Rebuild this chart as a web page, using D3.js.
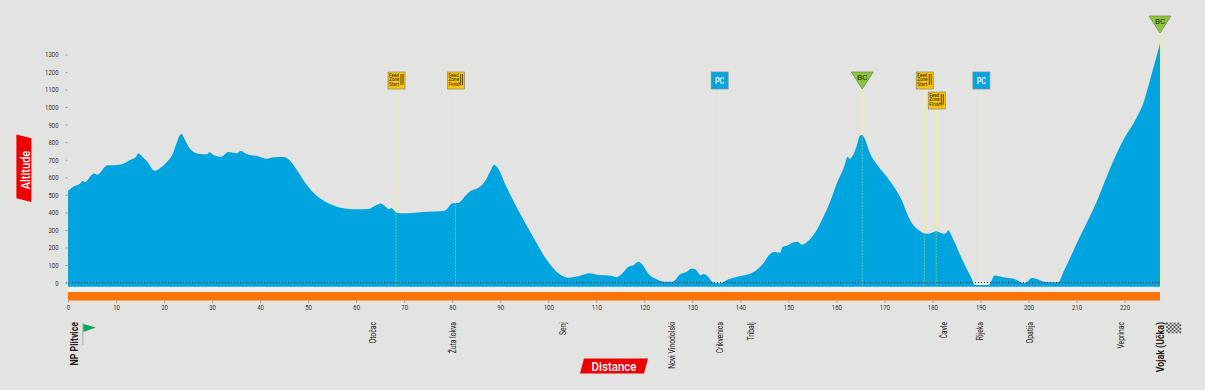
<!DOCTYPE html>
<html>
<head>
<meta charset="utf-8">
<script src="https://cdnjs.cloudflare.com/ajax/libs/d3/7.8.5/d3.min.js"></script>
<style>
html, body { margin: 0; padding: 0; background: #e3e3e1; overflow: hidden; }
svg { display: block; }
text { font-family: "Roboto", sans-serif; }
</style>
</head>
<body>
<div id="chart"></div>
<script>
let width = 1205;
let height = 390;

// profile
let distanceKm = [0,1.1,2.4,3.1,3.6,4.6,5.4,6.1,6.7,7.4,8.2,9.4,11.2,12.9,14.2,14.6,15.6,16.7,17.6,18.1,19.2,20.6,21.8,22.6,23.3,23.7,24.2,25.1,26.1,27.5,29,29.4,30.3,31.9,33.4,35.1,36,37.2,39.6,41.4,42.8,45,45.9,47.6,49.4,50.7,53.2,56,59.4,62.5,63.9,65.1,65.8,66.8,67.3,68.4,69.5,74.7,78.2,79,79.9,81.5,82.7,83.9,85.4,86.6,87.9,88.7,89.3,91.3,94.1,96.9,99.7,101.1,102.1,104.2,106.6,108.6,110.5,113.2,114.1,115.3,116.7,117.6,118.8,119.5,120.9,122.6,124.3,125.9,127.5,128.8,129.9,130.6,131.8,132.4,133.1,134.3,135.8,137.2,139.3,142,143.4,144.8,146.2,147.2,148.3,148.8,149.7,151.4,152,152.8,153.8,155.6,157.3,158.7,160.1,161.5,162.4,162.7,163.5,164.4,164.9,165.4,165.8,167,168.8,170.5,172.2,173.6,175,176,177.1,178.3,179.2,180.8,182.3,182.8,183.2,184.4,186.1,187.9,188.9,191.7,192.2,192.9,194.8,197.6,198.9,199.6,200.7,201.7,203.5,206.2,207.3,210.7,214.2,217.3,219.4,222.8,223.9,225.7,227.4];
let altitudeM = [523,546,562,579,573,603,622,615,626,651,668,668,674,698,717,737,714,683,645,637,653,687,733,794,841,847,822,774,746,733,731,742,727,717,744,737,750,733,720,706,714,716,703,645,569,523,467,432,418,419,436,450,440,418,425,398,395,404,408,421,450,457,493,523,539,569,632,672,660,546,395,258,129,81,53,28,39,53,43,39,30,49,91,97,119,106,49,19,5,5,47,62,81,76,42,49,39,2,-3,15,34,51,72,110,163,174,170,204,210,231,231,216,230,286,375,461,566,651,717,704,727,794,837,841,826,737,660,603,537,470,375,328,300,281,278,292,278,281,298,243,138,39,-14,-14,5,41,30,15,-3,2,26,20,3,2,62,261,461,670,794,955,1021,1192,1363];

let altitudeTicks = [0,100,200,300,400,500,600,700,800,900,1000,1100,1200,1300];
let distanceTicks = [0,10,20,30,40,50,60,70,80,90,100,110,120,130,140,150,160,170,180,190,200,210,220];

let placeNames = ["NP Plitvice","Otočac","Žuta lokva","Senj","Novi Vinodolski","Crikvenica","Tribalj","Čavle","Rijeka","Opatija","Veprinac","Vojak (Učka)"];
let placeLabelKm = [1.3,63.5,80.2,103.1,125.7,135.7,142.3,182.4,189.9,200.3,219.2,227.4];

let signKm = [68.3,80.7,135.7,165.4,178.3,180.8,190.2,227.4];
let signType = ["feed","feed","pc","bc","feed","feed","pc","bc"];
let signWords = ["Start","Finish","PC","BC","Start","Finish","PC","BC"];

// Roboto is too wide next to the original face, so text gets squeezed
let squeeze = 0.8;

let x = d3.scaleLinear().domain([0,220]).range([68,1124.5]);
let y = d3.scaleLinear().domain([0,1300]).range([282.6,54.4]);
let floorAlt = -24;
let xEnd = x(distanceKm[distanceKm.length-1]);

let svg = d3.select("#chart").append("svg")
    .attr("width", width)
    .attr("height", height)
    .attr("viewBox", `0 0 ${width} ${height}`);

svg.append("rect").attr("width", width).attr("height", height).attr("fill", "#e3e3e1");

// light strip under sea level, shows in the dips and above the orange bar
svg.append("rect")
    .attr("x", x(0)).attr("y", y(0))
    .attr("width", xEnd-x(0)).attr("height", 292-y(0))
    .attr("fill", "#efefed");

let profile = distanceKm.map((d,i) => [d, altitudeM[i]]);
let area = d3.area()
    .x(d => x(d[0]))
    .y0(y(floorAlt))
    .y1(d => y(d[1]))
    .curve(d3.curveMonotoneX);

// pole lines first, the area covers their lower part
let signY = function(i){
    if(i == 5) return 109;
    if(i == 7) return 33;
    return 89;
};
svg.append("g").selectAll("line")
    .data(signKm)
    .enter()
    .append("line")
        .attr("x1", d => x(d)).attr("x2", d => x(d))
        .attr("y1", (d,i) => signY(i)).attr("y2", y(floorAlt))
        .style("stroke", "#f3efa0")
        .style("stroke-width", "1px");

svg.append("path")
    .attr("d", area(profile))
    .attr("fill", "#00a5df");

svg.append("clipPath").attr("id", "areaClip")
    .append("path").attr("d", area(profile));

// same poles seen through the area are green and broken
svg.append("g").attr("clip-path", "url(#areaClip)").selectAll("line")
    .data(signKm.slice(0,7))
    .enter()
    .append("line")
        .attr("x1", d => x(d)).attr("x2", d => x(d))
        .attr("y1", 40).attr("y2", y(floorAlt))
        .style("stroke", "#63c5a0")
        .style("stroke-width", "1px")
        .style("stroke-dasharray", "2 1");

// sea level
svg.append("line")
    .attr("x1", x(0)-2).attr("x2", xEnd)
    .attr("y1", y(0)).attr("y2", y(0))
    .style("stroke", "#111")
    .style("stroke-width", "1px")
    .style("stroke-dasharray", "1 2");

// orange bar
svg.append("rect")
    .attr("x", x(0)).attr("y", 292)
    .attr("width", xEnd-x(0)).attr("height", 8.5)
    .attr("fill", "#ff7300");

// axes
let yAxis = d3.axisLeft(y).tickValues(altitudeTicks).tickSize(2).tickPadding(7).tickFormat(d3.format("d"));
let yG = svg.append("g").attr("transform", `translate(${x(0)-0.5},0)`).call(yAxis);
let xAxis = d3.axisBottom(x).tickValues(distanceTicks).tickSize(2).tickPadding(2).tickFormat(d3.format("d"));
let xG = svg.append("g").attr("transform", "translate(0,300.5)").call(xAxis);
[yG, xG].forEach(g => {
    g.select(".domain").remove();
    g.selectAll(".tick line").style("stroke", "#999");
    g.selectAll(".tick text").style("font-size", "7.5px").style("fill", "#333");
});
yG.selectAll(".tick text")
    .attr("x", -9/squeeze)
    .attr("transform", `scale(${squeeze},1)`);
xG.selectAll(".tick text")
    .attr("transform", `scale(${squeeze},1)`);

// place names
svg.append("g").selectAll("text")
    .data(placeNames)
    .enter()
    .append("text")
        .attr("transform", (d,i) => `translate(${x(placeLabelKm[i])},322) rotate(-90) scale(${squeeze},1)`)
        .attr("text-anchor", "end")
        .attr("dy", "0.35em")
        .style("fill", "#222")
        .style("font-size", (d,i) => (i == 0 || i == placeNames.length-1) ? "11px" : "8.5px")
        .style("font-weight", (d,i) => (i == 0 || i == placeNames.length-1) ? "bold" : "normal")
        .text(d => d);

// signs
signKm.forEach((km,i) => {
    let cx = x(km), tip = signY(i);
    let g = svg.append("g").attr("transform", `translate(${cx},${tip})`);
    if(signType[i] == "bc"){
        g.append("path").attr("d", "M-11,-17 L11,-17 L0,0 Z")
            .attr("fill", "#8cc63f").attr("stroke", "#6f7f55").attr("stroke-width", 0.7);
        g.append("text").attr("y", -9).attr("text-anchor", "middle")
            .style("font-size", "8px").style("fill", "#1f2b0c").text(signWords[i]);
    } else if(signType[i] == "pc"){
        g.append("rect").attr("x", -8.5).attr("y", -17).attr("width", 17).attr("height", 17)
            .attr("fill", "#00a5df").attr("stroke", "#7d8c95").attr("stroke-width", 0.7);
        g.append("text").attr("y", -5.5).attr("text-anchor", "middle")
            .attr("transform", `scale(${squeeze},1)`)
            .style("font-size", "9px").style("font-weight", "500").style("fill", "#fff").text(signWords[i]);
    } else {
        g.append("rect").attr("x", -8).attr("y", -17).attr("width", 17).attr("height", 17)
            .attr("fill", "#ffc400").attr("stroke", "#8b8672").attr("stroke-width", 0.7);
        ["Feed","Zone",signWords[i]].forEach((w,j) => {
            g.append("text").attr("x", -7).attr("y", -12+j*4.4)
                .style("font-size", "4.6px").style("fill", "#222").text(w);
        });
        // fork and knife
        [5,7].forEach(dx => {
            g.append("line").attr("x1", dx).attr("x2", dx).attr("y1", -15).attr("y2", -4)
                .style("stroke", "#5a4500").style("stroke-width", "1px");
        });
    }
});

// start flag
let flagG = svg.append("g").attr("transform", `translate(${x(3.1)},323)`);
flagG.append("line").attr("x1", 0).attr("x2", 0).attr("y1", 0).attr("y2", 22)
    .style("stroke", "#aaa").style("stroke-width", "1px");
flagG.append("path").attr("d", "M0.5,1 L13,4.5 L0.5,9 Z").attr("fill", "#0aa65a");

// finish flag
let finishG = svg.append("g").attr("transform", `translate(${xEnd+6},322.5)`);
d3.range(6).forEach(r => {
    d3.range(8).forEach(c => {
        if((r+c) % 2 == 0){
            finishG.append("rect")
                .attr("x", c*1.9).attr("y", r*1.8)
                .attr("width", 1.9).attr("height", 1.8)
                .attr("fill", "#555");
        }
    });
});

// badges
svg.append("path")
    .attr("d", "M16.4,134.4 L31.4,138.3 L31.4,202 L16.4,198.2 Z")
    .attr("fill", "#ee0000");
svg.append("text")
    .attr("transform", "translate(25,170) rotate(-90) scale(0.85,1)")
    .attr("text-anchor", "middle")
    .attr("dy", "0.35em")
    .style("fill", "#fff")
    .style("font-size", "13px")
    .style("font-weight", "500")
    .text("Altitude");

svg.append("path")
    .attr("d", "M584,358.5 L648,358.5 L644,373.5 L580,373.5 Z")
    .attr("fill", "#ee0000");
svg.append("text")
    .attr("transform", "translate(614,366.5) scale(0.85,1)")
    .attr("text-anchor", "middle")
    .attr("dy", "0.35em")
    .style("fill", "#fff")
    .style("font-size", "13.5px")
    .style("font-weight", "500")
    .text("Distance");
</script>
</body>
</html>
